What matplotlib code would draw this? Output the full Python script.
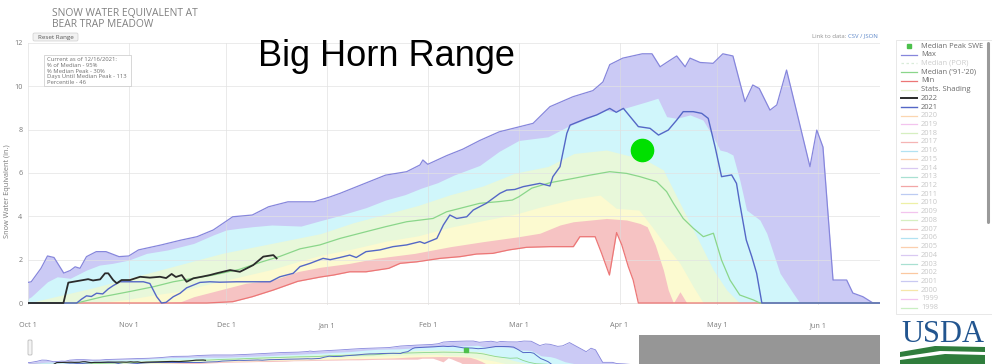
import matplotlib
matplotlib.use("Agg")
import matplotlib.pyplot as plt
from matplotlib.patches import Rectangle, FancyBboxPatch, Polygon

plt.rcParams['font.family'] = ['Open Sans', 'DejaVu Sans']

# ---- data (x = days since Oct 1, y = SWE in inches) ----
month_days = [0, 31, 61, 92, 123, 151, 182, 212, 243]
month_labels = ['Oct 1', 'Nov 1', 'Dec 1', 'Jan 1', 'Feb 1', 'Mar 1', 'Apr 1', 'May 1', 'Jun 1']

max_d = [0, 1, 4, 6, 8, 11, 13, 14.5, 16, 18, 21, 24, 28, 31, 34, 41, 47, 52, 57, 63, 69, 74, 80, 88,
         93, 96, 105, 110, 116.5, 120.6, 121.5, 123, 128.8, 133.8, 139, 145, 151.4, 155.4, 160.6, 167.7,
         173.8, 176.9, 179, 183, 189, 192, 194.5, 196.5, 199.6, 202.2, 203.7, 206.8, 210.8, 213.8, 216.9,
         220.6, 223, 225, 228.3, 230.4, 233.4, 235.4, 240.6, 242.7, 244.6, 247.7, 251.9, 253.8, 256.9, 260, 262]
max_v = [0.95, 0.98, 1.6, 2.17, 2.1, 1.38, 1.5, 1.67, 1.6, 2.14, 2.37, 2.37, 2.14, 2.17, 2.45, 2.68, 2.9,
         3.06, 3.37, 3.98, 4.06, 4.44, 4.67, 4.67, 4.9, 5.06, 5.6, 5.9, 6.06, 6.37, 6.6, 6.4, 6.8, 7.1, 7.5,
         7.9, 8.14, 8.29, 9.06, 9.52, 9.8, 10.2, 11.0, 11.3, 11.5, 11.5, 10.9, 11.1, 11.4, 10.9, 11.3, 11.1,
         11.06, 11.5, 11.4, 9.29, 10.06, 9.9, 8.9, 9.14, 10.75, 9.52, 6.29, 7.98, 7.2, 1.06, 1.06, 0.46,
         0.29, 0.0, 0.0]

p90_d = [0, 1, 6, 9, 13, 18, 22, 26, 31, 36.5, 43, 51, 57, 61, 65, 69, 75, 84, 90, 95, 104, 110, 116,
         121, 126, 131, 139, 145, 151, 160, 166, 172, 178, 180, 190.4, 193.8, 196.5, 199.6, 203.7, 207.7,
         210.8, 212.9, 215, 216.9, 219, 221.1, 225.2, 227.3, 231.4, 235.4, 237.5, 262]
p90_v = [0.2, 0.29, 0.98, 1.21, 1.14, 1.52, 1.75, 1.83, 1.98, 2.29, 2.45, 2.75, 3.14, 3.37, 3.45, 3.52,
         3.6, 3.55, 3.8, 4.0, 4.4, 4.75, 5.0, 5.3, 5.55, 5.9, 6.35, 7.0, 7.5, 7.67, 8.14, 8.5, 8.9, 8.83,
         9.29, 9.45, 8.6, 8.52, 8.68, 8.44, 7.67, 7.06, 6.98, 6.83, 5.68, 4.29, 3.83, 3.22, 1.37, 0.46, 0, 0]

p70_d = [0, 10, 20, 30, 40, 50, 60, 70, 80, 90, 100, 110, 120, 130, 140, 150, 160, 168, 178, 184, 190,
         195.5, 198.6, 202.7, 206.8, 210.9, 215, 219, 262]
p70_v = [0, 0.35, 0.7, 1.1, 1.5, 1.9, 2.3, 2.6, 2.9, 3.2, 3.7, 4.1, 4.5, 5.0, 5.4, 6.0, 6.3, 6.9, 7.06,
         6.83, 6.6, 6.14, 5.21, 3.98, 2.75, 1.52, 0.6, 0, 0]

p30_d = [0, 20, 30, 40, 47, 55, 65, 75, 84, 90, 100, 110, 120, 130, 140, 150, 157, 168, 176, 181, 188,
         192, 196.5, 200.6, 204.7, 207.8, 262]
p30_v = [0, 0, 0.15, 0.4, 0.55, 0.85, 1.2, 1.55, 1.95, 2.2, 2.5, 2.85, 3.1, 3.5, 3.8, 4.1, 4.4, 4.8,
         4.98, 4.37, 4.29, 3.52, 2.6, 1.83, 0.75, 0, 0]

p10_d = [0, 38, 47, 51, 59, 67, 75.5, 83, 90, 99, 107, 119, 130, 140, 151, 157.5, 163.7, 167.8, 178,
         184.2, 188.3, 190.5, 193, 195.5, 197, 198.6, 200.6, 202.7, 262]
p10_v = [0, 0, 0.06, 0.29, 0.6, 0.91, 1.06, 1.45, 1.65, 1.83, 2.06, 2.29, 2.6, 2.83, 3.06, 3.22, 3.6,
         3.75, 3.9, 3.83, 3.67, 3.52, 2.68, 1.52, 0.6, 0, 0.52, 0, 0]

min_d = [0, 55, 63, 69, 75.5, 83, 90, 94, 99, 104, 111, 114.5, 119.6, 126.8, 133, 138, 143, 148, 153.4,
         160.6, 167.8, 169.8, 174.5, 176.5, 178.9, 181.1, 182.7, 184.7, 186.2, 187.8, 262]
min_v = [0, 0, 0.06, 0.29, 0.6, 1.0, 1.2, 1.29, 1.44, 1.44, 1.6, 1.83, 1.9, 2.06, 2.14, 2.26, 2.29, 2.45,
         2.57, 2.6, 2.6, 3.06, 3.06, 2.29, 1.29, 3.25, 2.68, 1.68, 1.06, 0, 0]

med_d = [0, 15, 23, 31, 38.6, 44.7, 50.9, 57, 65, 72, 77.5, 83.7, 89.8, 96, 104, 110, 116.5, 124.6,
         128.8, 133, 139, 145, 149, 151, 155, 160.6, 167.8, 172.9, 179, 184.2, 188.3, 193.4, 196.5, 198.6,
         201.6, 204.7, 207.8, 210.9, 213.4, 216, 219, 223.2, 225.2, 262]
med_v = [0, 0, 0.29, 0.52, 0.75, 0.98, 1.14, 1.29, 1.55, 1.9, 2.15, 2.5, 2.68, 2.98, 3.29, 3.52, 3.75,
         3.9, 4.21, 4.37, 4.6, 4.68, 4.75, 4.9, 5.3, 5.55, 5.75, 5.9, 6.06, 5.98, 5.83, 5.6, 5.14, 4.6,
         3.9, 3.45, 3.06, 3.22, 1.98, 1.06, 0.37, 0.14, 0, 0]

wy2021_d = [0, 15, 16.5, 18, 19.5, 21.1, 23, 24.7, 26.2, 28.3, 31.4, 35.5, 37.5, 39.6, 41.1, 42.5, 44.7,
            46.8, 48.8, 52.9, 56, 59, 64.2, 69.3, 74.5, 77.5, 81.6, 83.7, 86.8, 90.8, 93, 96, 99, 101,
            104, 108.3, 112.3, 116.5, 120.6, 122, 125.8, 127.8, 129.8, 131.9, 135, 137, 141, 145.2,
            147.3, 149.8, 152.4, 157.5, 160.6, 161.5, 163.7, 165.8, 166.8, 171.9, 175, 179, 181, 183.2,
            187.8, 191.4, 194, 197, 199.6, 201.6, 204.7, 207.3, 209.3, 211.4, 213.4, 216.5, 218, 219,
            221, 222.7, 224.2, 225.8, 262]
wy2021_v = [0, 0, 0.18, 0.33, 0.3, 0.45, 0.42, 0.65, 0.8, 0.98, 0.98, 0.98, 0.9, 0.29, 0, 0.03, 0.29,
            0.45, 0.7, 0.95, 0.98, 0.96, 0.98, 0.98, 0.98, 1.21, 1.37, 1.68, 1.83, 2.06, 2.0, 2.1, 2.21,
            2.1, 2.37, 2.45, 2.6, 2.68, 2.83, 2.75, 2.98, 3.6, 4.06, 3.9, 3.98, 4.29, 4.6, 5.06, 5.21,
            5.24, 5.37, 5.52, 5.4, 5.83, 6.29, 7.83, 8.21, 8.52, 8.68, 8.98, 8.8, 8.98, 8.14, 8.06, 7.75,
            7.98, 8.44, 8.83, 8.83, 8.75, 8.52, 7.21, 5.83, 5.91, 5.52, 4.6, 2.91, 2.14, 1.37, 0, 0]

wy2022_d = [0, 10.9, 12.4, 13.9, 17, 18.5, 20, 22.2, 23.7, 24.7, 26.2, 27.3, 28.8, 31.4, 34.5, 37.5,
            40.6, 42.5, 44.2, 45.5, 47.3, 48.8, 50.9, 53.4, 56, 58, 62.2, 65.2, 69.3, 72.4, 75.5, 76.5]
wy2022_v = [0, 0, 0.94, 0.98, 1.06, 1.1, 1.04, 1.09, 1.37, 1.37, 1.06, 0.91, 1.06, 1.06, 1.21, 1.17,
            1.21, 1.15, 1.34, 1.2, 1.29, 0.98, 1.14, 1.21, 1.29, 1.37, 1.52, 1.44, 1.75, 2.14, 2.21, 2.06]

peak_day = 189
peak_swe = 7.06

legend_names = ['Median Peak SWE', 'Max', 'Median (POR)', "Median ('91-'20)", 'Min', 'Stats. Shading',
                '2022', '2021', '2020', '2019', '2018', '2017', '2016', '2015', '2014', '2013', '2012',
                '2011', '2010', '2009', '2008', '2007', '2006', '2005', '2004', '2003', '2002', '2001',
                '2000', '1999', '1998']
year_colors = ['#fbd6b0', '#f3c4ee', '#d6efc0', '#f5b4b4', '#b2e2f2', '#fbcfae', '#d9c9f2', '#a9e0d2',
               '#f2a6a6', '#bccbf2', '#eef0a6', '#f3c4ee', '#d6efc0', '#f5b4b4', '#b2e2f2', '#fbcfae',
               '#d9c9f2', '#a9e0d2', '#fbc8a0', '#c9c9f2', '#f6e6a8', '#f3c4ee', '#c9efc2']

info_lines = ['Current as of 12/16/2021:', '% of Median - 95%', '% Median Peak - 30%',
              'Days Until Median Peak - 113', 'Percentile - 46']

# colours
c_purple = '#cbcaf5'
c_cyan = '#d0f6fb'
c_lgreen = '#e8f8da'
c_yellow = '#fcfad0'
c_red = '#f6c3c3'
c_maxline = '#8686dc'
c_minline = '#ec7676'
c_med = '#8ad68a'
c_2021 = '#5467c6'
grey_txt = '#7a7a7a'

W, H = 992, 364
fig = plt.figure(figsize=(W / 100, H / 100), dpi=100)

# main axes: day 0 at x=28, 3.25 px/day; 0 in at y=303, 21.67 px/in
x0, x1 = 28, 880
ybot = 303 + 0.1 * 21.67
ytop = 303 - 12 * 21.67
ax = fig.add_axes([x0 / W, 1 - ybot / H, (x1 - x0) / W, (ybot - ytop) / H])
ax.set_xlim(0, (x1 - x0) / 3.25)
ax.set_ylim(-0.1, 12.0)

ax.fill_between(max_d, max_v, color=c_purple, lw=0, zorder=1)
ax.fill_between(p90_d, p90_v, color=c_cyan, lw=0, zorder=1.1)
ax.fill_between(p70_d, p70_v, color=c_lgreen, lw=0, zorder=1.2)
ax.fill_between(p30_d, p30_v, color=c_yellow, lw=0, zorder=1.3)
ax.fill_between(p10_d, p10_v, color=c_red, lw=0, zorder=1.4)
ax.fill_between(min_d, min_v, color='white', lw=0, zorder=1.5)

for d in month_days:
    ax.axvline(d, color='#dcdcdc', lw=0.6, alpha=0.7, zorder=1.6)
for v in range(0, 13, 2):
    ax.axhline(v, color='#e2e2e2', lw=0.6, alpha=0.8, zorder=1.6)

ax.plot(max_d, max_v, color=c_maxline, lw=0.9, zorder=3)
ax.plot(min_d, min_v, color=c_minline, lw=0.9, zorder=3)
ax.plot(med_d, med_v, color=c_med, lw=0.9, zorder=3.1)
ax.plot(wy2021_d, wy2021_v, color=c_2021, lw=1.0, zorder=3.2)
ax.plot(wy2022_d, wy2022_v, color='#2b2b2b', lw=1.3, zorder=3.3)
ax.plot([peak_day], [peak_swe], 'o', ms=16, color='#00e000', mec='#00e000', zorder=4)

ax.set_xticks(month_days)
ax.set_xticklabels(month_labels)
ax.set_yticks(range(0, 13, 2))
ax.tick_params(length=0, labelsize=5.2, labelcolor=grey_txt)
ax.tick_params(axis='x', pad=12)
ax.tick_params(axis='y', pad=4)
for s in ax.spines.values():
    s.set_visible(False)

# navigator (cut off at the bottom)
nb = 364.5
nt = 335
nav = fig.add_axes([x0 / W, 1 - nb / H, (x1 - x0) / W, (nb - nt) / H])
nav.set_xlim(0, (x1 - x0) / 2.32)
nav.set_ylim(0, (nb - nt) / 2.04)
nav.fill_between(max_d, max_v, color=c_purple, lw=0)
nav.fill_between(p90_d, p90_v, color=c_cyan, lw=0)
nav.fill_between(p70_d, p70_v, color=c_lgreen, lw=0)
nav.fill_between(p30_d, p30_v, color=c_yellow, lw=0)
nav.fill_between(p10_d, p10_v, color=c_red, lw=0)
nav.fill_between(min_d, min_v, color='white', lw=0)
nav.plot(max_d, max_v, color=c_maxline, lw=0.6)
nav.plot(med_d, med_v, color=c_med, lw=0.6)
nav.plot(wy2021_d, wy2021_v, color=c_2021, lw=0.7)
nav.plot(wy2022_d, wy2022_v, color='#2b2b2b', lw=0.8)
nav.plot([peak_day], [peak_swe], 's', ms=2.5, color='#4cc04c')
nav.axvspan((x1 - x0) / 3.25 + 1, (x1 - x0) / 2.32, color='#8e8e8e', alpha=0.93, lw=0)
nav.axis('off')

# overlay for page furniture (pixel coordinates)
ov = fig.add_axes([0, 0, 1, 1], zorder=10)
ov.set_xlim(0, W)
ov.set_ylim(H, 0)
ov.axis('off')

ov.text(8, 191, 'Snow Water Equivalent (in.)', fontsize=5.3, color=grey_txt, rotation=90,
        ha='center', va='center')
ov.text(52, 13, 'SNOW WATER EQUIVALENT AT', fontsize=7.4, color='#808080', va='center')
ov.text(52, 24.5, 'BEAR TRAP MEADOW', fontsize=7.4, color='#808080', va='center')
ov.text(386, 57, 'Big Horn Range', fontsize=26, color='black', ha='center', va='center',
        family=['Liberation Sans', 'DejaVu Sans'])
ov.text(848, 36, 'Link to data: ', fontsize=4.3, color='#909090', ha='right', va='center')
ov.text(848, 36, 'CSV / JSON', fontsize=4.3, color='#5b86c8', ha='left', va='center')

ov.add_patch(FancyBboxPatch((33, 33), 45, 8, boxstyle='round,pad=0,rounding_size=1.5',
                            fc='#f2f2f2', ec='#cfcfcf', lw=0.5))
ov.text(55.5, 37, 'Reset Range', fontsize=4.5, color='#555555', ha='center', va='center')

ov.add_patch(Rectangle((44, 55), 87, 31, fc='white', ec='#c8c8c8', lw=0.5))
for i, t in enumerate(info_lines):
    ov.text(47, 59.5 + i * 5.8, t, fontsize=4.2, color='#707070', va='center')

# legend
ov.add_patch(Rectangle((896, 40), 98, 274, fc='white', ec='#e4e4e4', lw=0.6))
ov.plot([988, 988], [43, 222], color='#9a9a9a', lw=2.2, solid_capstyle='round')
ly0, lstep = 46, 8.72
for i, name in enumerate(legend_names):
    y = ly0 + i * lstep
    tc = '#6a6a6a'
    if name == 'Median Peak SWE':
        ov.plot([908.5], [y], 's', ms=2.2, color='#4cc04c')
    elif name == 'Max':
        ov.plot([901, 917], [y, y], color=c_maxline, lw=0.9)
    elif name == 'Median (POR)':
        ov.plot([901, 917], [y, y], color='#d9ecd9', lw=0.9, ls=(0, (2, 2)))
        tc = '#cccccc'
    elif name == "Median ('91-'20)":
        ov.plot([901, 917], [y, y], color=c_med, lw=0.9)
    elif name == 'Min':
        ov.plot([901, 917], [y, y], color=c_minline, lw=0.9)
    elif name == 'Stats. Shading':
        ov.plot([901, 917], [y, y], color='#e4f3cf', lw=0.9)
    elif name == '2022':
        ov.plot([901, 917], [y, y], color='#2b2b2b', lw=1.4)
    elif name == '2021':
        ov.plot([901, 917], [y, y], color=c_2021, lw=1.0)
    else:
        ov.plot([901, 917], [y, y], color=year_colors[i - 8], lw=0.9)
        tc = '#c8c8c8'
    ov.text(921, y, name, fontsize=5.4, color=tc, va='center')

# navigator handle
ov.add_patch(FancyBboxPatch((28, 340), 4, 15, boxstyle='round,pad=0,rounding_size=1',
                            fc='#f4f4f4', ec='#b0b0b0', lw=0.5))

# USDA logo
ov.text(943, 334, 'USDA', fontsize=22, color='#22558f', ha='center', va='center',
        family=['Liberation Serif', 'DejaVu Serif'], fontstretch='condensed')
ov.add_patch(Polygon([[900, 352], [935, 346], [985, 347], [985, 352], [940, 351], [900, 357]],
                     closed=True, fc='#2f7d3c', ec='none'))
ov.add_patch(Polygon([[900, 360], [945, 354], [985, 355], [985, 364], [900, 364]],
                     closed=True, fc='#2f7d3c', ec='none'))

fig.savefig('out.png', dpi=100)
